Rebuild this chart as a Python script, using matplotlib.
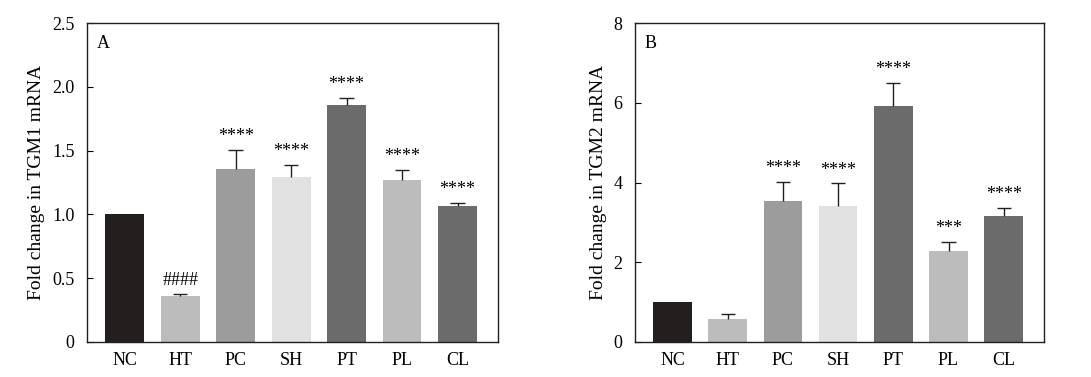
import matplotlib.pyplot as plt

plt.rcParams['font.family'] = ['Liberation Serif', 'DejaVu Serif']

groups = ['NC', 'HT', 'PC', 'SH', 'PT', 'PL', 'CL']
colors = ['#231f1e', '#bbbcbb', '#9b9c9b', '#e1e1e1', '#6b6b6b', '#bbbcbb', '#6b6b6b']

tgm1 = [1.0, 0.363, 1.355, 1.293, 1.855, 1.27, 1.066]
tgm1_err = [0.0, 0.017, 0.15, 0.098, 0.06, 0.078, 0.025]
tgm1_marks = ['', '####', '****', '****', '****', '****', '****']

tgm2 = [1.0, 0.58, 3.54, 3.41, 5.92, 2.29, 3.16]
tgm2_err = [0.0, 0.12, 0.47, 0.57, 0.58, 0.23, 0.20]
tgm2_marks = ['', '', '****', '****', '****', '***', '****']


def panel(ax, vals, errs, marks, ymax, yticks, yticklabels, ylabel, letter):
    x = list(range(len(groups)))
    ax.bar(x, vals, width=0.7, color=colors, zorder=2)
    # upper-only error bars, cap on top
    for i, (v, e, m) in enumerate(zip(vals, errs, marks)):
        if e > 0:
            ax.vlines(i, v, v + e, color='#231f1e', lw=1, zorder=3)
            ax.hlines(v + e, i - 0.13, i + 0.13, color='#231f1e', lw=1, zorder=3)
        if m:
            ax.text(i, v + e + ymax * 0.015, m, ha='center', va='bottom', fontsize=13)
    ax.set_xlim(-0.68, 6.73)
    ax.set_ylim(0, ymax)
    ax.set_xticks(x)
    ax.set_xticklabels(groups, fontsize=13)
    ax.tick_params(axis='x', length=0, pad=7)
    ax.set_yticks(yticks)
    ax.set_yticklabels(yticklabels, fontsize=13)
    ax.tick_params(axis='y', direction='in', length=4, pad=9)
    ax.set_ylabel(ylabel, fontsize=14, labelpad=5)
    ax.text(10 / 411, 1 - 12 / 319, letter, transform=ax.transAxes, fontsize=13, va='top')
    for s in ax.spines.values():
        s.set_linewidth(1)
        s.set_color('#231f1e')


fig = plt.figure(figsize=(10.91, 3.77), dpi=100)
ax1 = fig.add_axes([87 / 1091, 35 / 377, 411 / 1091, 319 / 377])
ax2 = fig.add_axes([635 / 1091, 35 / 377, 409 / 1091, 319 / 377])

panel(ax1, tgm1, tgm1_err, tgm1_marks, 2.5, [0, 0.5, 1.0, 1.5, 2.0, 2.5],
      ['0', '0.5', '1.0', '1.5', '2.0', '2.5'], 'Fold change in TGM1 mRNA', 'A')
panel(ax2, tgm2, tgm2_err, tgm2_marks, 8, [0, 2, 4, 6, 8],
      ['0', '2', '4', '6', '8'], 'Fold change in TGM2 mRNA', 'B')

fig.savefig('out.png', dpi=100)
